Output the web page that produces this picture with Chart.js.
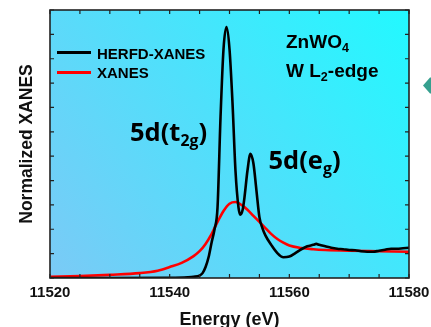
<!DOCTYPE html>
<html>
<head>
<meta charset="utf-8">
<script src="https://cdn.jsdelivr.net/npm/chart.js@4.4.0/dist/chart.umd.min.js"></script>
<style>
    html, body { margin: 0; padding: 0; background: #ffffff; }
    #wrap { position: relative; width: 431px; height: 327px; overflow: hidden; }
    #wrap canvas { position: absolute; left: 0; top: 0; }
    .lbl { position: absolute; white-space: nowrap; color: #000; font-weight: bold; line-height: 1; }
    .arial { font-family: "Liberation Sans", Arial, sans-serif; }
    .peak { font-family: "Open Sans", Lato, sans-serif; font-size: 25.5px; }
    .peak sub { font-size: 62%; vertical-align: -0.3em; line-height: 0; }
    .info { font-size: 19px; }
    .info sub { font-size: 66%; vertical-align: -0.3em; line-height: 0; }
    .leg { font-size: 15px; }
    .legline { position: absolute; height: 2.5px; width: 34px; }
</style>
</head>
<body>
<div id="wrap">
    <canvas id="chart" width="431" height="327"></canvas>

    <div class="legline" style="left:57px; top:51px; background:#000;"></div>
    <div class="lbl arial leg" style="left:97px; top:45.5px;">HERFD-XANES</div>
    <div class="legline" style="left:57px; top:71px; background:#ff0000;"></div>
    <div class="lbl arial leg" style="left:97px; top:65px;">XANES</div>

    <div class="lbl arial info" style="left:286px; top:31.5px;">ZnWO<sub>4</sub></div>
    <div class="lbl arial info" style="left:286px; top:61px;">W L<sub>2</sub>-edge</div>

    <div class="lbl peak" style="left:130px; top:119px;">5d(t<sub>2g</sub>)</div>
    <div class="lbl peak" style="left:268.5px; top:146.5px;">5d(e<sub>g</sub>)</div>
</div>

<script>
// HERFD-XANES (noir)
const energyHerfd = [11520, 11530, 11540, 11543, 11544, 11545, 11545.5, 11546, 11546.5, 11547, 11547.5, 11548, 11548.5,
    11549, 11549.5, 11550, 11550.5, 11551, 11551.5, 11551.8, 11552.2, 11552.5, 11553, 11553.5, 11554, 11554.5,
    11555, 11555.5, 11556, 11557, 11558, 11559, 11560, 11561, 11562, 11563, 11564, 11564.5, 11565, 11566, 11567,
    11568, 11569, 11570, 11571, 11572, 11573, 11574, 11575, 11576, 11577, 11578, 11579, 11580];
const valuesHerfd = [0.0, 0.0, 0.01, 0.03, 0.05, 0.1, 0.2, 0.45, 0.85, 1.45, 2.0, 2.9, 6.6,
    9.4, 10.3, 9.4, 7.2, 4.4, 2.9, 2.6, 2.8, 3.3, 4.4, 5.1, 4.7, 3.6,
    2.5, 2.05, 1.75, 1.35, 1.02, 0.85, 0.88, 1.02, 1.18, 1.3, 1.36, 1.4, 1.36, 1.3, 1.24,
    1.2, 1.18, 1.15, 1.14, 1.1, 1.08, 1.08, 1.12, 1.16, 1.2, 1.2, 1.22, 1.24];

// XANES conventionnel (rouge)
const energyXanes = [11520, 11525, 11530, 11535, 11538, 11540, 11542, 11544, 11545, 11546, 11547, 11548, 11549,
    11550, 11551, 11552, 11553, 11554, 11555, 11556, 11557, 11558, 11559, 11560, 11562, 11564, 11566, 11570, 11575, 11580];
const valuesXanes = [0.05, 0.08, 0.13, 0.2, 0.3, 0.45, 0.62, 0.9, 1.1, 1.4, 1.8, 2.3, 2.75,
    3.05, 3.12, 3.0, 2.8, 2.55, 2.3, 2.05, 1.8, 1.6, 1.45, 1.33, 1.23, 1.18, 1.15, 1.12, 1.1, 1.08];

const xTickLabels = [11520, 11540, 11560, 11580];
const xMinorStep = 5;
const yTickStep = 1;

const toPoints = (xs, ys) => xs.map((x, i) => ({ x: x, y: ys[i] }));

// fond dégradé de la zone de tracé
const backgroundPlugin = {
    id: 'bgGradient',
    beforeDraw(chart) {
        const { ctx, chartArea: a } = chart;
        const g = ctx.createLinearGradient(a.left, a.bottom, a.right, a.top);
        g.addColorStop(0, '#7bcaf6');
        g.addColorStop(0.5, '#4fe0fb');
        g.addColorStop(1, '#22f9ff');
        ctx.save();
        ctx.fillStyle = g;
        ctx.fillRect(a.left, a.top, a.right - a.left, a.bottom - a.top);
        ctx.restore();
    }
};

// cadre, graduations vers l'intérieur, petite flèche à droite
const framePlugin = {
    id: 'frame',
    afterDraw(chart) {
        const { ctx, chartArea: a } = chart;
        const xs = chart.scales.x, ys = chart.scales.y;
        const len = 4;
        ctx.save();
        ctx.strokeStyle = '#222';
        ctx.lineWidth = 1.2;
        ctx.beginPath();
        for (let v = xs.min; v <= xs.max; v += xMinorStep) {
            const px = xs.getPixelForValue(v);
            ctx.moveTo(px, a.bottom); ctx.lineTo(px, a.bottom - len);
            ctx.moveTo(px, a.top); ctx.lineTo(px, a.top + len);
        }
        for (let v = ys.min; v <= ys.max; v += yTickStep) {
            const py = ys.getPixelForValue(v);
            ctx.moveTo(a.left, py); ctx.lineTo(a.left + len, py);
            ctx.moveTo(a.right, py); ctx.lineTo(a.right - len, py);
        }
        ctx.stroke();
        ctx.lineWidth = 1.6;
        ctx.strokeRect(a.left, a.top, a.right - a.left, a.bottom - a.top);

        const cy = ys.getPixelForValue(7.9);
        ctx.fillStyle = '#36a08f';
        ctx.beginPath();
        ctx.moveTo(a.right + 14, cy);
        ctx.lineTo(a.right + 21, cy - 8);
        ctx.lineTo(a.right + 23, cy - 8);
        ctx.lineTo(a.right + 23, cy + 8);
        ctx.lineTo(a.right + 21, cy + 8);
        ctx.closePath();
        ctx.fill();
        ctx.restore();
    }
};

new Chart(document.getElementById('chart'), {
    type: 'line',
    data: {
        datasets: [
            {
                label: 'HERFD-XANES',
                data: toPoints(energyHerfd, valuesHerfd),
                borderColor: '#000000',
                borderWidth: 2.6,
                pointRadius: 0,
                cubicInterpolationMode: 'monotone',
                fill: false
            },
            {
                label: 'XANES',
                data: toPoints(energyXanes, valuesXanes),
                borderColor: '#ff0000',
                borderWidth: 2.6,
                pointRadius: 0,
                cubicInterpolationMode: 'monotone',
                fill: false
            }
        ]
    },
    options: {
        responsive: false,
        animation: false,
        devicePixelRatio: 1,
        layout: { padding: { top: 10, right: 22, left: 0, bottom: 0 } },
        plugins: {
            legend: { display: false },
            tooltip: { enabled: false }
        },
        scales: {
            x: {
                type: 'linear',
                min: 11520,
                max: 11580,
                afterBuildTicks: s => { s.ticks = xTickLabels.map(v => ({ value: v })); },
                afterFit: s => { s.height = 49; },
                grid: { display: false },
                border: { display: false },
                ticks: {
                    color: '#111',
                    padding: -2,
                    maxRotation: 0,
                    autoSkip: false,
                    font: { family: '"Liberation Sans", Arial, sans-serif', size: 15, weight: 'bold' },
                    callback: v => String(v)
                },
                title: {
                    display: true,
                    text: 'Energy (eV)',
                    color: '#111',
                    padding: { top: 0, bottom: -4 },
                    font: { family: '"Liberation Sans", Arial, sans-serif', size: 18, weight: 'bold' }
                }
            },
            y: {
                min: 0,
                max: 11,
                afterFit: s => { s.width = 50; },
                grid: { display: false },
                border: { display: false },
                ticks: { display: false, stepSize: yTickStep },
                title: {
                    display: true,
                    text: 'Normalized XANES',
                    color: '#111',
                    padding: { top: 17, bottom: 0 },
                    font: { family: '"Liberation Sans", Arial, sans-serif', size: 17.5, weight: 'bold' }
                }
            }
        }
    },
    plugins: [backgroundPlugin, framePlugin]
});
</script>
</body>
</html>
